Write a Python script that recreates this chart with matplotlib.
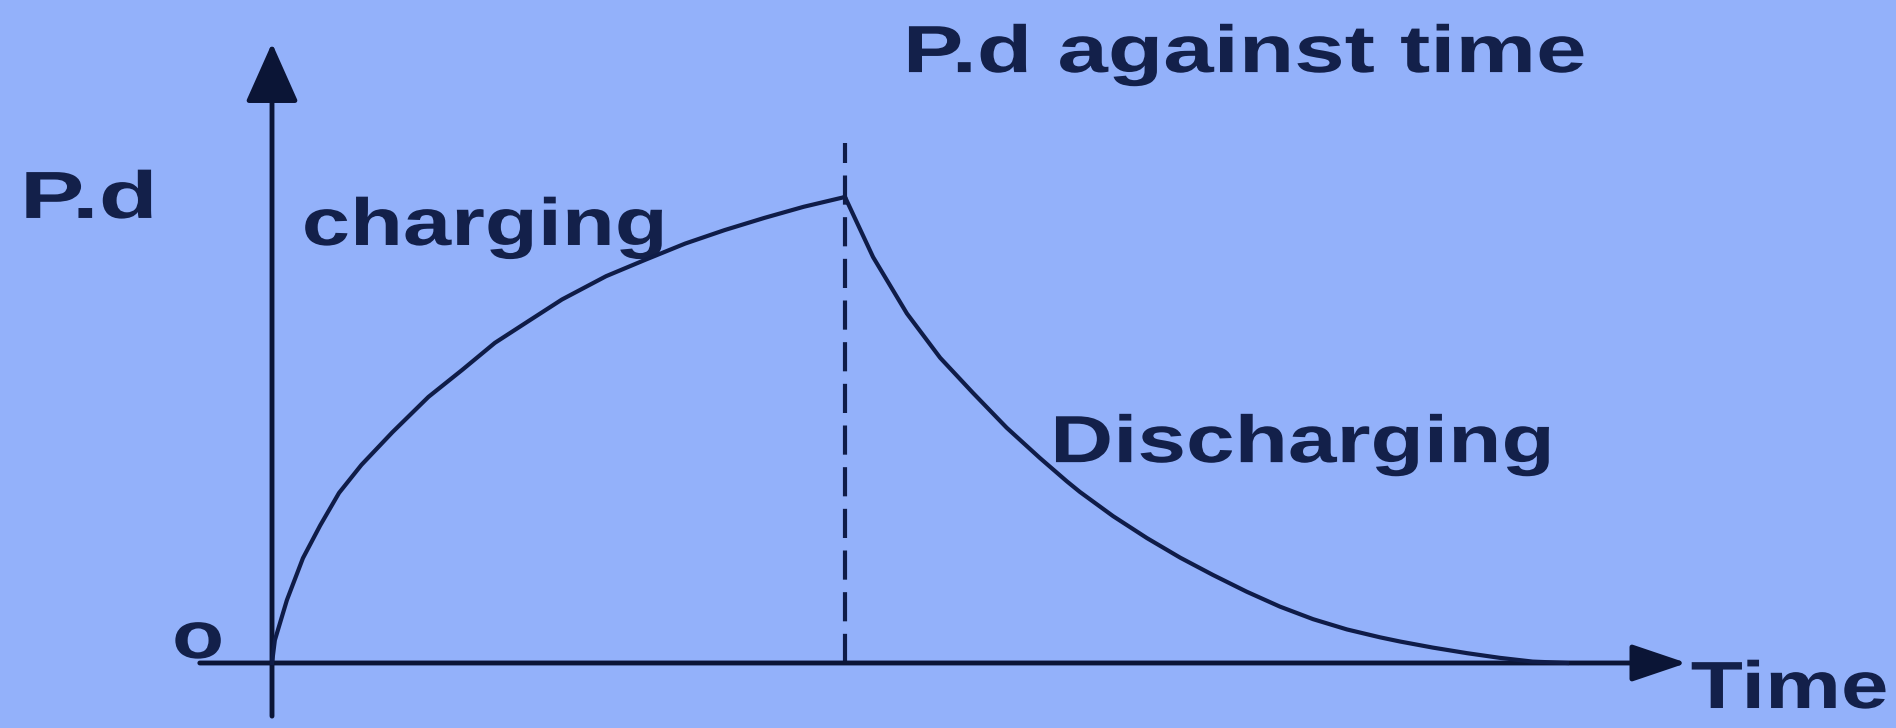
import matplotlib.pyplot as plt
from matplotlib.patches import FancyArrowPatch
from matplotlib.patheffects import AbstractPathEffect
from matplotlib.transforms import Affine2D

# values
# time in arbitrary units (switch-over at t=10), p.d. scaled so the peak is 10
charge_t = [0, 0.05, 0.26, 0.54, 0.84, 1.17, 1.56, 2.1, 2.73, 3.32, 3.89,
            4.48, 5.06, 5.83, 6.51, 7.21, 7.90, 8.59, 9.28, 10]
charge_v = [0, 0.49, 1.35, 2.25, 2.95, 3.65, 4.25, 4.95, 5.71, 6.29, 6.87,
            7.34, 7.8, 8.3, 8.65, 9.0, 9.29, 9.55, 9.79, 10]

discharge_t = [10, 10.49, 11.08, 11.66, 12.23, 12.82, 13.40, 13.87, 14.10,
               14.68, 15.27, 15.85, 16.42, 17.01, 17.59, 18.17, 18.76, 19.34,
               19.69, 20.26, 20.86, 21.43, 22.0, 22.6]
discharge_v = [10, 8.71, 7.5, 6.55, 5.8, 5.05, 4.4, 3.9, 3.67,
               3.15, 2.68, 2.26, 1.89, 1.53, 1.21, 0.94, 0.72, 0.55,
               0.46, 0.33, 0.21, 0.11, 0.03, 0.0]

switch_t = 10
dash_top = 11.16

title = 'P.d against time'
y_label = 'P.d'
x_label = 'Time'
origin_label = 'o'
charge_label = 'charging'
discharge_label = 'Discharging'

bg = '#93b1fa'
ink = '#13204a'
line_col = '#0f1c48'


class Widen(AbstractPathEffect):
    """Stretch the lettering sideways, the original text is wide."""

    def __init__(self, sx):
        super().__init__()
        self.sx = sx

    def draw_path(self, renderer, gc, tpath, affine, rgbFace=None):
        renderer.draw_path(gc, tpath, Affine2D().scale(self.sx, 1) + affine, rgbFace)


fig = plt.figure(figsize=(18.96, 7.28), dpi=100, facecolor=bg)
ax = fig.add_axes([0, 0, 1, 1])
ax.set_xlim(-4.747, 28.342)
ax.set_ylim(-1.395, 14.227)
ax.axis('off')

# axes drawn as arrows
xarrow = FancyArrowPatch((-1.26, 0), (24.69, 0),
                         arrowstyle='-|>,head_length=34,head_width=11.5',
                         mutation_scale=1, shrinkA=0, shrinkB=0,
                         lw=3.5, color='#0b1536', zorder=3)
yarrow = FancyArrowPatch((0, -1.14), (0, 13.30),
                         arrowstyle='-|>,head_length=37,head_width=16.5',
                         mutation_scale=1, shrinkA=0, shrinkB=0,
                         lw=3.5, color='#0b1536', zorder=3)
ax.add_patch(xarrow)
ax.add_patch(yarrow)

ax.plot(charge_t, charge_v, color=line_col, lw=3, solid_joinstyle='round', zorder=4)
ax.plot(discharge_t, discharge_v, color=line_col, lw=3, solid_joinstyle='round', zorder=4)
ax.vlines(switch_t, 0, dash_top, color=line_col, lw=3, linestyles=(0, (7, 3)), zorder=2)

txt = dict(fontsize=48, fontweight='bold', family='Liberation Sans', color=ink,
           ha='left', va='baseline')
ax.text(11.01, 12.68, title, path_effects=[Widen(1.36)], **txt)
ax.text(-4.40, 9.55, y_label, path_effects=[Widen(1.45)], **txt)
ax.text(0.52, 8.97, charge_label, path_effects=[Widen(1.30)], **txt)
ax.text(13.58, 4.31, discharge_label, path_effects=[Widen(1.31)], **txt)
ax.text(24.76, -0.966, x_label, path_effects=[Widen(1.28)], **txt)
ax.text(-1.745, 0.107, origin_label, path_effects=[Widen(1.28)], **txt)

fig.savefig('out.png', dpi=100)
